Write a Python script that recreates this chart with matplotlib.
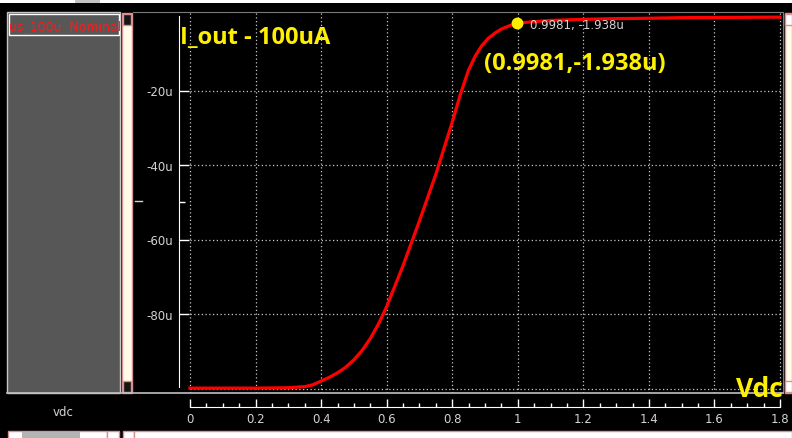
import numpy as np
import matplotlib
matplotlib.use("Agg")
import matplotlib.pyplot as plt
from matplotlib.patches import Rectangle
from matplotlib.lines import Line2D

# curve (Vdc in V, I_out in uA)
vdc = [0.0, 0.1, 0.2, 0.3, 0.35, 0.375, 0.4, 0.425, 0.45, 0.475, 0.5,
       0.525, 0.55, 0.575, 0.6, 0.65, 0.7, 0.75, 0.8, 0.825, 0.85, 0.87,
       0.89, 0.91, 0.93, 0.95, 0.975, 0.9981, 1.05, 1.1, 1.2, 1.3, 1.4,
       1.5, 1.6, 1.7, 1.8]
i_out = [-99.9, -99.9, -99.9, -99.8, -99.5, -99.0, -98.0, -97.0, -95.8,
         -94.3, -92.3, -89.8, -86.6, -82.7, -78.0, -67.0, -55.0, -42.5,
         -28.5, -21.0, -14.5, -10.8, -8.0, -6.0, -4.6, -3.5, -2.6, -1.938,
         -1.5, -1.2, -0.9, -0.7, -0.6, -0.45, -0.4, -0.35, -0.3]
marker_x, marker_y = 0.9981, -1.938

x_major = np.round(np.arange(0, 1.81, 0.2), 2)
x_labels = ["0", "0.2", "0.4", "0.6", "0.8", "1", "1.2", "1.4", "1.6", "1.8"]
y_ticks = [-80, -60, -40, -20]
y_labels = ["-80u", "-60u", "-40u", "-20u"]
y_grid = [-100, -80, -60, -40, -20]

W, H = 792, 439
fig = plt.figure(figsize=(W / 100, H / 100), dpi=100, facecolor="black")


def box(x0, y0, x1, y1):
    return [x0 / W, 1 - y1 / H, (x1 - x0) / W, (y1 - y0) / H]


def rect(x0, y0, x1, y1, fc, ec="none", lw=1.0):
    fig.add_artist(Rectangle((x0 / W, 1 - y1 / H), (x1 - x0) / W, (y1 - y0) / H,
                             transform=fig.transFigure, fc=fc, ec=ec, lw=lw))


def hline(x0, x1, y, color, lw=1.0):
    fig.add_artist(Line2D([x0 / W, x1 / W], [1 - y / H, 1 - y / H],
                          transform=fig.transFigure, color=color, lw=lw))


grey_txt = "#d4d4d4"
pink = "#d89090"
cream = "#fffbe6"

# pixel mapping of the data: x 0 -> 190px, 1.8 -> 780px ; y 0 -> 17px, -100 -> 389.5px
ppx = (780 - 190) / 1.8
ppy = (389.5 - 17) / 100
xlim = (-(190 - 133) / ppx, 1.8 + (783 - 780) / ppx)
ylim = (-100 - (394 - 389.5) / ppy, (17 - 13) / ppy)

# ---- main plot ----
ax = fig.add_axes(box(133, 13, 783, 394), facecolor="black")
ax.set_xlim(*xlim)
ax.set_ylim(*ylim)
ax.spines["bottom"].set_visible(False)
ax.spines["top"].set_color("#7a7a7a")
ax.spines["right"].set_color("#7a7a7a")
ax.spines["left"].set_color("white")
ax.spines["left"].set_position(("data", -(190 - 179) / ppx))
ax.spines["left"].set_bounds(-99.7, 0)
ax.set_xticks([])
ax.set_yticks(y_ticks)
ax.set_yticklabels(y_labels)
ax.set_yticks([-50], minor=True)
ax.tick_params(axis="y", which="major", direction="in", length=7, width=1,
               color="white", labelcolor=grey_txt, labelsize=8.5, pad=4.3)
ax.tick_params(axis="y", which="minor", direction="in", length=4, width=1,
               color="white")

for v in x_major:
    ax.axvline(v, color="#c8c8c8", lw=0.9, ls=(0, (1, 2)), zorder=1)
ax.hlines(y_grid, 0, 1.8, color="#c8c8c8", lw=0.9, ls=(0, (1, 2)), zorder=1)

ax.plot(vdc, i_out, color="#ff0000", lw=2.3, zorder=3, solid_joinstyle="round")
ax.plot([marker_x], [marker_y], "o", color="#ffee00", ms=7.5, zorder=4)

# ---- x axis strip ----
ax2 = fig.add_axes(box(133, 395, 783, 432), facecolor="none")
ax2.set_xlim(*xlim)
ax2.set_ylim(0, 1)
for s in ["top", "left", "right"]:
    ax2.spines[s].set_visible(False)
ax2.spines["bottom"].set_position(("axes", (432 - 408) / 37))
ax2.spines["bottom"].set_bounds(0, 1.8)
ax2.spines["bottom"].set_color("white")
ax2.set_yticks([])
ax2.set_xticks(x_major)
ax2.set_xticklabels(x_labels)
ax2.set_xticks(np.arange(0, 1.81, 0.05), minor=True)
ax2.tick_params(axis="x", which="major", direction="in", length=5.5, width=1,
                color="white", labelcolor=grey_txt, labelsize=8.5, pad=3.6)
ax2.tick_params(axis="x", which="minor", direction="in", length=3, width=1,
                color="white")

# ---- viewer chrome ----
rect(0, 0, 792, 4, "white")
rect(75, 0, 100, 4, "#c4c4c4")
rect(7, 13, 120, 394, "#575757", "#c8c8c8", 1)
rect(8.5, 14.5, 118.5, 36, "#575757", "white", 1)
fig.text(9 / W, 1 - 30 / H, "us_100u  Nominal", color="#ff1a1a", fontsize=9,
         ha="left", va="baseline")
rect(121.5, 13.5, 131.5, 394, cream, pink, 1)
rect(122.5, 15, 131, 26, "#151515", pink, 1)
rect(122.5, 382, 131, 393, "#151515", pink, 1)
rect(784.5, 13.5, 792, 394, cream, pink, 1)
rect(784.5, 15, 792, 26, "white", pink, 1)
rect(784.5, 382, 792, 393, "white", pink, 1)
hline(7, 783, 394, "#c0c0c0", 1.2)
hline(135, 142, 202, grey_txt, 1)
fig.text(63 / W, 1 - 413 / H, "vdc", color=grey_txt, fontsize=8.5,
         ha="center", va="center")

# bottom scroll bars
rect(7.5, 432, 107, 440, "white", pink, 1)
rect(22, 433, 80, 440, "#b4b4b4")
rect(107, 432, 119, 440, "white", pink, 1)
rect(123, 432, 134, 440, "white", pink, 1)
rect(134, 432, 792, 440, "white", pink, 1)

# ---- yellow annotations ----
yel = "#fff000"
fig.text(180 / W, 1 - 44 / H, "I_out - 100uA", color=yel, fontsize=17,
         fontweight="bold", family="Open Sans", ha="left", va="baseline")
fig.text(484 / W, 1 - 70 / H, "(0.9981,-1.938u)", color=yel, fontsize=17,
         fontweight="bold", family="Open Sans", ha="left", va="baseline")
fig.text(736 / W, 1 - 397 / H, "Vdc", color=yel, fontsize=19,
         fontweight="bold", family="Open Sans", ha="left", va="baseline")
fig.text(530 / W, 1 - 29.5 / H, "0.9981, -1.938u", color=grey_txt, fontsize=8.5,
         ha="left", va="baseline")

fig.savefig("out.png", dpi=100, facecolor="black")
